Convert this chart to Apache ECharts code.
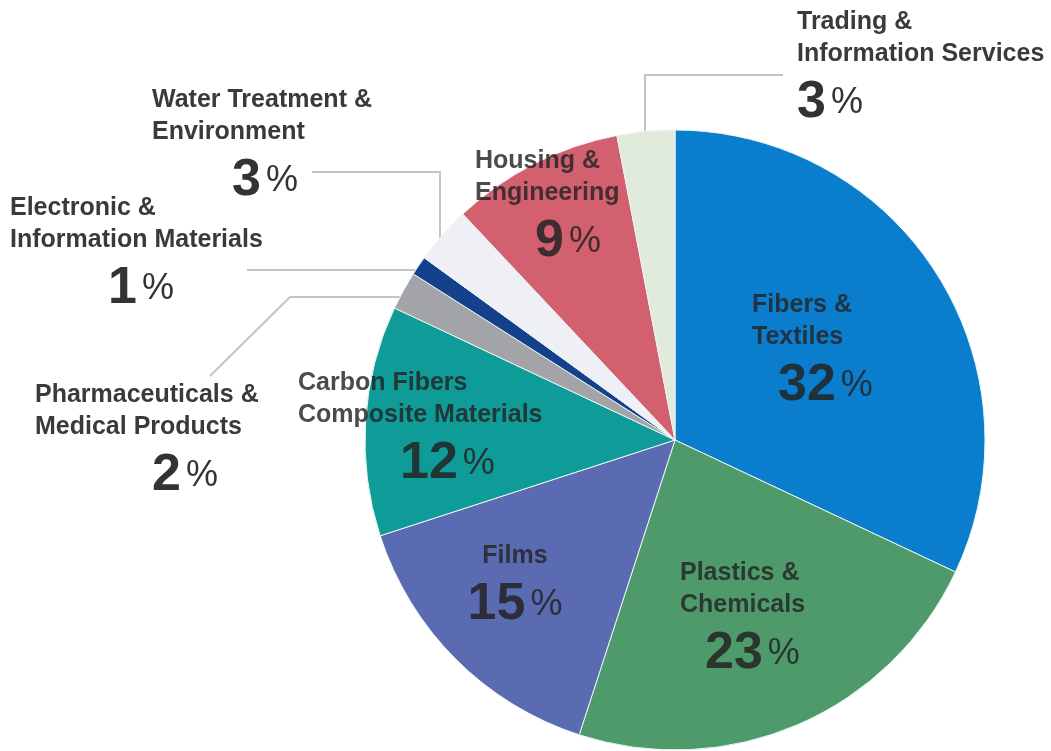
<!DOCTYPE html>
<html>
<head>
<meta charset="utf-8">
<script src="https://cdn.jsdelivr.net/npm/echarts@6/dist/echarts.min.js"></script>
<style>
html,body{margin:0;padding:0;background:#fff;}
#chart{width:1051px;height:751px;}
</style>
</head>
<body>
<div id="chart"></div>
<script>
// ---- data ----
const categories = [
  'Fibers &\nTextiles',
  'Plastics &\nChemicals',
  'Films',
  'Carbon Fibers\nComposite Materials',
  'Pharmaceuticals &\nMedical Products',
  'Electronic &\nInformation Materials',
  'Water Treatment &\nEnvironment',
  'Housing &\nEngineering',
  'Trading &\nInformation Services'
];
const values = [32, 23, 15, 12, 2, 1, 3, 9, 3];
const colors = ['#0b7dcd', '#4f9a6b', '#5b6bb2', '#0f9b97', '#a2a4a7', '#14408c', '#eef0f6', '#d3606f', '#e1ebdb'];
const insideSlices = [true, true, true, true, false, false, false, true, false];

// label placement (text anchor + leader elbows), not marks
const placement = [
  {x: 752, y: 289, align: 'left', numPad: 26},
  {x: 680, y: 557, align: 'left', numPad: 25},
  {x: 515, y: 540, align: 'center'},
  {x: 298, y: 367, align: 'left', numPad: 102},
  {x: 35,  y: 379, align: 'left', numPad: 117, line: [[404, 297], [290, 297], [210, 376]]},
  {x: 10,  y: 192, align: 'left', numPad: 98, line: [[416, 270], [247, 270]]},
  {x: 152, y: 84,  align: 'left', numPad: 80, line: [[440, 247], [440, 172], [312, 172]]},
  {x: 475, y: 145, align: 'left', numPad: 60},
  {x: 797, y: 6,   align: 'left', numPad: 0, line: [[645, 157], [645, 75], [783, 75]]}
];

const FONT = '"Liberation Sans", Arial, Helvetica, sans-serif';

function richFor(i) {
  const p = placement[i];
  const inside = insideSlices[i];
  const nameColor = inside ? 'rgba(35,35,35,0.82)' : '#3a3a3a';
  const numColor = inside ? 'rgba(35,35,35,0.85)' : '#333';
  const tokAlign = p.align === 'center' ? 'center' : 'left';
  return {
    n: {fontFamily: FONT, fontWeight: 'bold', fontSize: 25, lineHeight: 32, color: nameColor, align: tokAlign},
    v: {fontFamily: FONT, fontWeight: 'bold', fontSize: 52, lineHeight: 66, color: numColor, align: tokAlign,
        padding: p.numPad ? [0, 0, 0, p.numPad] : 0},
    p: {fontFamily: FONT, fontWeight: 'normal', fontSize: 36, lineHeight: 66, color: numColor, align: tokAlign,
        padding: [0, 0, 0, 5]}
  };
}

const seriesData = categories.map((name, i) => ({
  name: name,
  value: values[i],
  itemStyle: {color: colors[i]},
  label: {
    position: insideSlices[i] ? 'inside' : 'outside',
    rich: richFor(i),
    formatter: function (prm) {
      const lines = prm.name.split('\n').map(s => '{n|' + s + '}');
      return lines.join('\n') + '\n{v|' + prm.value + '}{p|%}';
    }
  },
  labelLine: {show: !insideSlices[i]}
}));

const chart = echarts.init(document.getElementById('chart'), null, {renderer: 'canvas'});
chart.setOption({
  backgroundColor: '#ffffff',
  animation: false,
  series: [{
    type: 'pie',
    center: [675, 440],
    radius: [0, 310],
    startAngle: 90,
    clockwise: true,
    avoidLabelOverlap: false,
    silent: true,
    itemStyle: {borderColor: '#eaf6f6', borderWidth: 1},
    label: {show: true},
    labelLine: {show: true, lineStyle: {color: '#c4c4c4', width: 2}},
    emphasis: {disabled: true},
    labelLayout: function (params) {
      const p = placement[params.dataIndex];
      const out = {x: p.x, y: p.y, align: p.align, verticalAlign: 'top'};
      if (p.line) out.labelLinePoints = p.line;
      return out;
    },
    data: seriesData
  }]
});
</script>
</body>
</html>
